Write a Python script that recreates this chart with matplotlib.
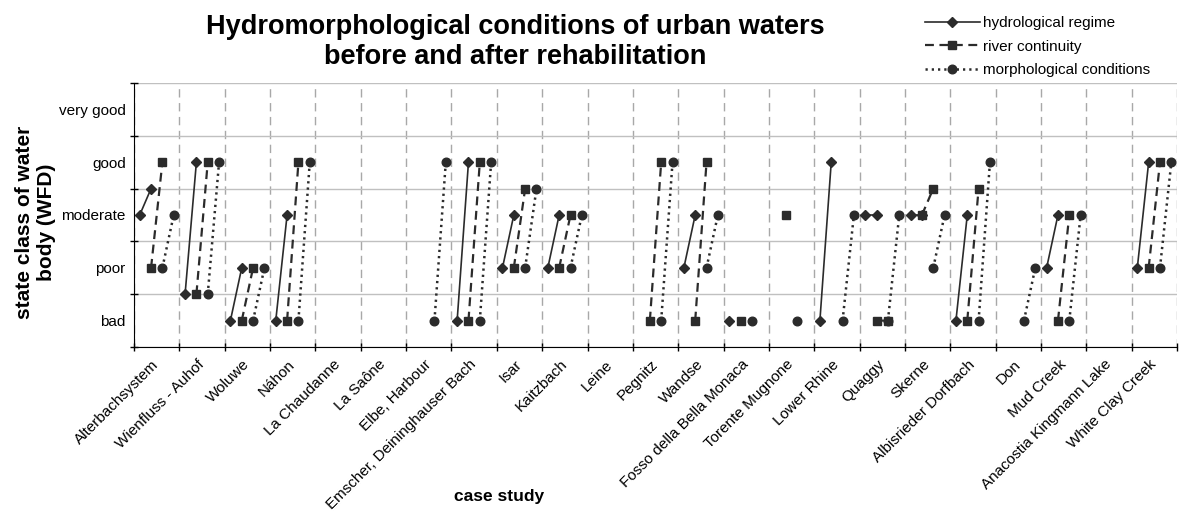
import numpy as np
import matplotlib
matplotlib.use("Agg")
import matplotlib.pyplot as plt

plt.rcParams['font.family'] = ['Liberation Sans', 'DejaVu Sans']

# case studies (x categories)
cases = ["Alterbachsystem", "Wienfluss - Auhof", "Woluwe", "Náhon", "La Chaudanne",
         "La Saône", "Elbe, Harbour", "Emscher, Deininghauser Bach", "Isar", "Kaitzbach",
         "Leine", "Pegnitz", "Wandse", "Fosso della Bella Monaca", "Torente Mugnone",
         "Lower Rhine", "Quaggy", "Skerne", "Albisrieder Dorfbach", "Don", "Mud Creek",
         "Anacostia Kingmann Lake", "White Clay Creek"]

# state class: 1 bad, 2 poor, 3 moderate, 4 good, 5 very good (None = no data)
hydro_before = [3, 1.5, 1, 1, None, None, None, 1, 2, 2, None, None, 2, 1, None,
                1, 3, 3, 1, None, 2, None, 2]
hydro_after = [3.5, 4, 2, 3, None, None, None, 4, 3, 3, None, None, 3, None, None,
               4, 3, 3, 3, None, 3, None, 4]
river_before = [2, 1.5, 1, 1, None, None, None, 1, 2, 2, None, 1, 1, 1, 3,
                None, 1, 3, 1, None, 1, None, 2]
river_after = [4, 4, 2, 4, None, None, None, 4, 3.5, 3, None, 4, 4, None, None,
               None, 1, 3.5, 3.5, None, 3, None, 4]
morph_before = [2, 1.5, 1, 1, None, None, 1, 1, 2, 2, None, 1, 2, 1, 1,
                1, 1, 2, 1, 1, 1, None, 2]
morph_after = [3, 4, 2, 4, None, None, 4, 4, 3.5, 3, None, 4, 3, None, None,
               3, 3, 3, 4, 2, 3, None, 4]

classes = ["bad", "poor", "moderate", "good", "very good"]


def segments(before, after, offset):
    # before/after pairs inside each case, separated by NaN so they don't join
    xs, ys = [], []
    for i, (b, a) in enumerate(zip(before, after)):
        xs += [i + offset, i + offset + 0.25, np.nan]
        ys += [np.nan if b is None else b, np.nan if a is None else a, np.nan]
    return np.array(xs), np.array(ys)


fig = plt.figure(figsize=(11.79, 5.19), dpi=100)
ax = fig.add_axes([0.1137, 0.3314, 0.8846, 0.5087])

col = '#2b2b2b'
x, y = segments(hydro_before, hydro_after, 0.125)
ax.plot(x, y, '-', color=col, lw=1.2, marker='D', ms=5, mfc=col, mec=col,
        label='hydrological regime', zorder=3)
x, y = segments(river_before, river_after, 0.375)
ax.plot(x, y, color=col, lw=1.6, ls=(0, (4, 2.5)), marker='s', ms=6, mfc=col, mec=col,
        label='river continuity', zorder=5)
x, y = segments(morph_before, morph_after, 0.625)
ax.plot(x, y, color=col, lw=1.8, ls=(0, (0.9, 1.6)), marker='o', ms=6.2, mfc=col, mec=col,
        label='morphological conditions', zorder=4)

ax.set_xlim(0, len(cases))
ax.set_ylim(0.5, 5.5)

ax.set_xticks(np.arange(len(cases) + 1))
ax.set_xticklabels([])
ax.set_xticks(np.arange(len(cases)) + 0.5, minor=True)
ax.set_xticklabels(cases, minor=True, rotation=45, ha='right', va='center',
                   rotation_mode='anchor', fontsize=11)
ax.set_yticks(np.arange(0.5, 6, 1))
ax.set_yticklabels([])
ax.set_yticks(np.arange(1, 6), minor=True)
ax.set_yticklabels(classes, minor=True, fontsize=11)

ax.tick_params(which='major', direction='inout', length=6, width=1)
ax.tick_params(which='minor', length=0)
ax.tick_params(axis='x', which='minor', pad=11)
ax.tick_params(axis='y', which='minor', pad=6)

ax.grid(axis='y', which='major', color='#c0c0c0', lw=1, ls='-')
ax.grid(axis='x', which='major', color='#a8a8a8', lw=1, ls=(0, (6, 4)))
ax.set_axisbelow(True)
ax.spines['top'].set_visible(False)
ax.spines['right'].set_visible(False)

fig.text(515 / 1179, 1 - 42 / 519,
         "Hydromorphological conditions of urban waters\nbefore and after rehabilitation",
         ha='center', va='center', fontsize=19.5, fontweight='bold', linespacing=1.2)
fig.text(36 / 1179, 1 - 222 / 519, "state class of water\nbody (WFD)", rotation=90,
         ha='center', va='center', fontsize=15, fontweight='bold', linespacing=1.2)
fig.text(499 / 1179, 1 - 497 / 519, "case study", ha='center', va='center',
         fontsize=12.5, fontweight='bold')

fig.legend(loc='upper right', bbox_to_anchor=(1156 / 1179, 1 - 10 / 519), frameon=False,
           fontsize=11, handlelength=3.6, numpoints=1, labelspacing=0.62,
           handletextpad=0.2, borderaxespad=0)

fig.savefig("out.png", dpi=100)
